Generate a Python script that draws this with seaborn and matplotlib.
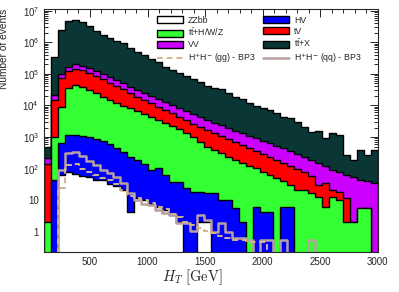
import numpy as np
import pandas as pd
import matplotlib
matplotlib.use("Agg")
import matplotlib.pyplot as plt
import seaborn as sns
from matplotlib.patches import Patch
from matplotlib.lines import Line2D
from matplotlib.ticker import FixedLocator, FuncFormatter, LogLocator, NullFormatter

# H_T binning: 48 bins between 100 and 3000 GeV
edges = list(np.linspace(100, 3000, 49))
centers = 0.5 * (np.array(edges[:-1]) + np.array(edges[1:]))

# background yields per bin
zzbb = [0, 0, 62, 78, 67, 58, 54, 44, 44, 32, 28, 21, 4.2, 11.6, 10, 7.5, 6, 4.9, 3.4, 2.0,
        0, 0, 2.0, 2.0, 0, 0, 0, 0, 0, 0, 0, 0, 0, 0, 0, 0, 0, 0, 0, 0, 0, 0, 0, 0, 0, 0, 0, 0]
hv = [0, 43, 580, 1070, 1080, 1010, 950, 820, 700, 570, 420, 310, 226, 173, 128, 82, 98, 57, 34, 35,
      24, 18, 16, 15, 17, 10, 10, 5.6, 2.0, 0, 6, 4.2, 4.2, 0, 6, 6, 0, 0, 0, 0, 0, 0, 0, 0, 0, 0, 0, 0]
tthwz = [2.0, 980, 8460, 3.39e4, 4.29e4, 3.69e4, 2.9e4, 2.36e4, 1.73e4, 1.42e4, 1.14e4, 9170, 7970, 6415,
         5160, 4210, 3300, 2690, 2160, 1740, 1300, 982, 672, 463, 373, 300, 220, 179, 148, 120, 98, 74,
         58, 50, 34, 24, 21, 21, 16.6, 12.5, 6, 12.5, 10, 2.0, 2.0, 5.6, 5.6, 0]
tv = [136, 1.38e4, 6.39e4, 8.7e4, 9.6e4, 9.2e4, 7.5e4, 6.05e4, 5.0e4, 3.72e4, 2.92e4, 2.35e4, 1.63e4,
      1.24e4, 9500, 7500, 5700, 4350, 3500, 2620, 2080, 1650, 1360, 1170, 930, 760, 620, 505, 400, 325,
      251, 212, 168, 135, 110, 90, 75, 57, 41, 17.5, 29, 8.5, 8, 9.7, 0, 0, 0, 0]
vv = [77, 6200, 2.5e4, 4.4e4, 6.0e4, 5.0e4, 4.5e4, 3.5e4, 3.0e4, 2.7e4, 2.2e4, 1.8e4, 1.35e4, 1.1e4,
      9700, 7700, 6900, 5500, 4300, 3800, 3200, 2650, 2150, 1750, 1430, 1330, 1050, 860, 750, 625, 575,
      450, 410, 330, 295, 235, 194, 152, 127, 120, 85, 69, 60, 51, 52, 37, 34, 35]
ttx = [265, 3.29e5, 2.40e6, 4.63e6, 5.0e6, 4.12e6, 3.05e6, 2.18e6, 1.60e6, 1.32e6, 1.04e6, 8.6e5,
       6.1e5, 4.7e5, 3.66e5, 2.8e5, 2.24e5, 1.57e5, 1.25e5, 9.7e4, 7.8e4, 6.2e4, 5.1e4, 3.76e4, 3.3e4,
       3.06e4, 2.2e4, 1.65e4, 1.47e4, 1.09e4, 8600, 7800, 6500, 5200, 3950, 3650, 2700, 1870, 1300,
       1350, 810, 1210, 1070, 207, 136, 347, 230, 355]

# signal, BP3
hh_gg = [0, 0, 24, 130, 140, 100, 78, 62, 50, 44, 32, 21, 13.5, 11.7, 10, 8.1, 6, 5.2, 3.6, 2.9, 2.0,
         1.6, 1.3, 1.1, 0.9, 0.73, 0.63, 0.55, 0.55, 0.47, 0.47, 0.47, 0, 0, 0, 0, 0, 0, 0, 0, 0, 0,
         0, 0, 0, 0, 0, 0]
hh_qq = [0, 0, 90, 310, 330, 250, 175, 130, 90, 72, 54, 35, 17, 10, 7.5, 7, 4.9, 3.9, 3.4, 1.9, 1.9,
         1.1, 3.4, 2.3, 1.0, 1.9, 1.0, 0.63, 0.63, 0.55, 0, 0.55, 0.55, 0, 0.55, 0, 0, 0, 0.55, 0, 0,
         0, 0, 0, 0, 0, 0, 0]

samples = ["ZZbb", "HV", r"$\mathregular{t\bar{t}}$+H/W/Z", "tV", "VV", r"$\mathregular{t\bar{t}}$+X"]
yields = [zzbb, hv, tthwz, tv, vv, ttx]
colors = ["#ffffff", "#0000ff", "#33ff33", "#ff0000", "#cc00ff", "#0b3636"]
gg_color = "#d2b48c"
qq_color = "#b8a0a0"

sns.set_style("ticks")
plt.rcParams["font.family"] = ["Liberation Sans", "DejaVu Sans"]

fig = plt.figure(figsize=(3.99, 2.92), dpi=100)
ax = fig.add_axes([0.110, 0.137, 0.837, 0.832])
ax.set_yscale("log")

stack = np.cumsum(np.array(yields, dtype=float), axis=0)
for k in range(len(samples) - 1, -1, -1):
    df = pd.DataFrame({"ht": centers, "n": stack[k]})
    sns.histplot(data=df, x="ht", weights="n", bins=edges, element="step", fill=True,
                 color=colors[k], edgecolor="black", linewidth=1.0, alpha=1, ax=ax)

sig = pd.DataFrame({"ht": centers, "qq": hh_qq, "gg": hh_gg})
sns.histplot(data=sig, x="ht", weights="qq", bins=edges, element="step", fill=False,
             color=qq_color, linewidth=1.8, ax=ax)
sns.histplot(data=sig, x="ht", weights="gg", bins=edges, element="step", fill=False,
             color=gg_color, linewidth=1.4, linestyle=(0, (3, 2)), ax=ax)

ax.set_xlim(100, 3000)
ax.set_ylim(0.23, 1.12e7)

ax.xaxis.set_major_locator(FixedLocator([500, 1000, 1500, 2000, 2500, 3000]))
ax.xaxis.set_minor_locator(FixedLocator(np.arange(200, 3000, 100)))
ax.yaxis.set_major_locator(FixedLocator([1, 10, 1e2, 1e3, 1e4, 1e5, 1e6, 1e7]))
ax.yaxis.set_minor_locator(LogLocator(base=10, subs=np.arange(2, 10), numticks=12))
ax.yaxis.set_minor_formatter(NullFormatter())


def log_label(v, pos):
    e = int(round(np.log10(v)))
    if e == 0:
        return "1"
    if e == 1:
        return "10"
    return r"$\mathregular{10^{%d}}$" % e


ax.yaxis.set_major_formatter(FuncFormatter(log_label))
ax.tick_params(which="both", direction="in", top=True, right=True, labelsize=7, width=0.7)
ax.tick_params(which="major", length=6)
ax.tick_params(which="minor", length=3)
for s in ax.spines.values():
    s.set_linewidth(0.8)

ax.set_ylabel("Number of events", fontsize=7.3, loc="top")
ax.yaxis.set_label_coords(-0.105, 1.0)
ax.set_xlabel(r"$H_T\ [\mathrm{GeV}]$", fontsize=10.5, math_fontfamily="cm")
ax.xaxis.set_label_coords(0.445, -0.065)

handles = [
    Patch(facecolor=colors[0], edgecolor="black", linewidth=1, label=samples[0]),
    Patch(facecolor=colors[2], edgecolor="black", linewidth=1, label=samples[2]),
    Patch(facecolor=colors[4], edgecolor="black", linewidth=1, label=samples[4]),
    Line2D([], [], color=gg_color, linewidth=1.4, linestyle=(0, (3, 2)),
           label=r"H$^{+}$H$^{-}$ (gg) - BP3"),
    Patch(facecolor=colors[1], edgecolor="black", linewidth=1, label=samples[1]),
    Patch(facecolor=colors[3], edgecolor="black", linewidth=1, label=samples[3]),
    Patch(facecolor=colors[5], edgecolor="black", linewidth=1, label=samples[5]),
    Line2D([], [], color=qq_color, linewidth=1.8, label=r"H$^{+}$H$^{-}$ (qq) - BP3"),
]
ax.legend(handles=handles, ncol=2, loc="upper left", bbox_to_anchor=(0.338, 0.972),
          frameon=False, fontsize=6.3, handlelength=3.0, handleheight=0.85,
          labelspacing=0.22, columnspacing=0.9, handletextpad=0.55, borderaxespad=0,
          borderpad=0)

fig.savefig("out.png", dpi=100)
